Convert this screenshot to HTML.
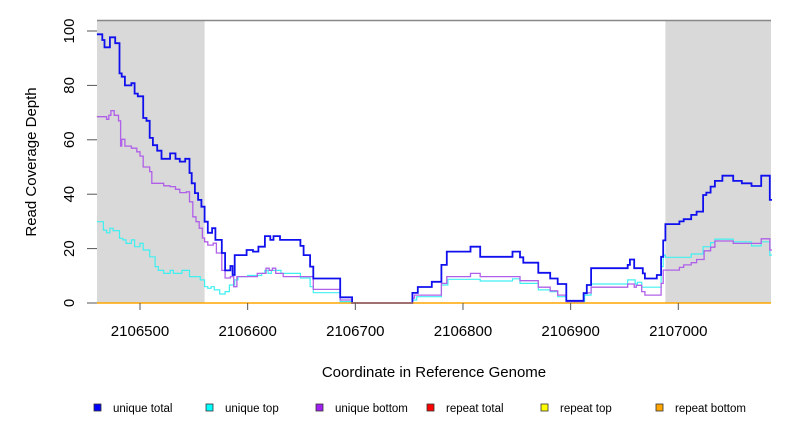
<!DOCTYPE html>
<html><head><meta charset="utf-8"><style>
body{margin:0;background:#fff;}
svg{display:block;font-family:"Liberation Sans",sans-serif;}
</style></head><body>
<svg id="chart" width="792" height="432" viewBox="0 0 792 432">
<g id="bg"></g><g id="series"></g><g id="axes"></g>
</svg>
<script>
const xTicks=[2106500,2106600,2106700,2106800,2106900,2107000];
const yTicks=[0,20,40,60,80,100];
const shadedRegions=[[2106460,2106560],[2106988,2107087]];
const totalPos=[2106460,2106465,2106467,2106472,2106477,2106481,2106483,2106486,2106492,2106495,2106498,2106503,2106506,2106509,2106512,2106516,2106520,2106528,2106533,2106537,2106542,2106546,2106548,2106551,2106554,2106557,2106560,2106563,2106567,2106570,2106576,2106579,2106584,2106586,2106588,2106599,2106605,2106610,2106616,2106621,2106624,2106630,2106649,2106652,2106658,2106661,2106686,2106697,2106753,2106758,2106771,2106780,2106785,2106807,2106816,2106846,2106853,2106856,2106870,2106881,2106888,2106896,2106912,2106915,2106919,2106953,2106955,2106959,2106967,2106969,2106980,2106984,2106986,2106988,2107001,2107005,2107012,2107017,2107023,2107026,2107030,2107034,2107041,2107051,2107059,2107068,2107077,2107085,2107087];
const totalVal=[98.8,96.7,94,97.7,95.5,84.4,83.2,80,80.8,77,76,68,67,60.7,58,56,53,55,53,52,53,47.8,44,40.4,37.9,35.4,29.9,25.8,27.5,23.2,18.4,12,13.6,10.3,17.6,19.5,18.9,20.7,24.6,23.2,24.6,23.2,21,17.6,13.4,9,2.1,0,3.7,5.9,7.8,14,18.9,20.7,17,18.9,16.8,14.8,11.1,9,7,0.8,3.6,6.6,12.8,14,16,12.8,10.9,9,10.3,17,23,29,30,30.8,32.4,33.6,39.7,40.6,42.8,44.9,46.8,44.9,44,43,46.8,37.9];
const bottomPos=[2106460,2106469,2106471,2106473,2106476,2106480,2106482,2106483,2106486,2106492,2106497,2106500,2106503,2106509,2106511,2106522,2106528,2106533,2106537,2106543,2106546,2106549,2106552,2106555,2106558,2106560,2106563,2106568,2106571,2106576,2106579,2106584,2106587,2106590,2106609,2106617,2106620,2106623,2106626,2106633,2106650,2106661,2106686,2106697,2106753,2106755,2106780,2106785,2106807,2106816,2106853,2106870,2106881,2106888,2106896,2106912,2106919,2106953,2106959,2106961,2106966,2106969,2106984,2106986,2106988,2107001,2107005,2107012,2107017,2107024,2107030,2107034,2107051,2107077,2107085,2107087];
const bottomVal=[68.5,67.5,69,70.7,69,67,57.7,60.2,57.7,56.9,55.6,54,50,48.3,44,43.1,42.8,41.8,40.6,40.9,37.2,31.7,29.9,27.5,23.9,22.5,21.3,22,18.4,12,9.2,9.7,6,9.7,10.9,12.8,12,12.8,10.9,9.7,9.7,5,1.1,0,1.8,2.9,7.2,9.7,10.9,9.7,8.2,5.8,4.5,2.9,0.5,3.7,5.8,7,5.8,6.5,4.2,2.9,7.2,12.1,12.1,13.1,14,14.8,16,19.2,20.5,22.8,21.9,23.6,19.5];
const topPos=[2106460,2106466,2106469,2106472,2106475,2106481,2106484,2106487,2106492,2106495,2106500,2106503,2106509,2106514,2106517,2106522,2106528,2106531,2106539,2106546,2106556,2106560,2106563,2106566,2106569,2106574,2106579,2106583,2106588,2106591,2106600,2106613,2106616,2106619,2106622,2106625,2106631,2106649,2106658,2106661,2106686,2106697,2106753,2106757,2106780,2106786,2106807,2106816,2106846,2106853,2106870,2106881,2106888,2106896,2106913,2106919,2106953,2106960,2106962,2106966,2106984,2106986,2106988,2107012,2107023,2107030,2107034,2107051,2107068,2107077,2107085,2107087];
const topVal=[29.9,26.8,25.8,27.5,26.6,23.8,23.2,21.9,23.2,20.7,21.9,19.5,17,13.4,12,10.9,12,10.9,12,9.7,8.5,6,5.4,6,4.8,3.3,4.2,6.6,8.5,9.7,10.1,10.9,12,10.9,12,12,10.9,9.2,6,3.8,0.5,0,1.1,2.3,6.6,8.7,8.7,8.1,8.9,7.2,4.8,4.2,2.3,0.5,2.9,7,8.5,7,7.6,5.8,13.4,17.6,16.8,18,20.7,22.2,23.5,22.5,21,22.5,17.6];
const legendLabels=["unique total","unique top","unique bottom","repeat total","repeat top","repeat bottom"];
const legendColors=["#0000ff","#00ffff","#a020f0","#ff0000","#ffff00","#ffa500"];

const NS="http://www.w3.org/2000/svg";
const X0=97,X1=771,Y0=20,Y1=303;
function xs(c){return 140+(c-2106500)*1.0766;}
function ys(v){return 303-v*2.72;}
function mk(tag,attrs,parent){const e=document.createElementNS(NS,tag);for(const k in attrs)e.setAttribute(k,attrs[k]);parent.appendChild(e);return e;}
const bg=document.getElementById('bg'),sg=document.getElementById('series'),ax=document.getElementById('axes');
shadedRegions.forEach((r,i)=>{
  const a=Math.max(X0,xs(r[0])),b=Math.min(X1,xs(r[1]));
  const el=mk('rect',{x:a,y:Y0,width:b-a,height:Y1-Y0,fill:'#d9d9d9'},bg);
  
  
});
const frame=mk('line',{x1:X0,y1:Y0+0.5,x2:X1,y2:Y0+0.5,stroke:'#888',"stroke-width":1.5},bg);


function stepPath(pos,val){
  let d='M'+xs(pos[0]).toFixed(1)+','+ys(val[0]).toFixed(1);
  for(let i=1;i<pos.length;i++){
    d+=' H'+xs(pos[i]).toFixed(1);
    if(i<val.length)d+=' V'+ys(val[i]).toFixed(1);
  }
  return d;
}
const zeroLine=mk('line',{x1:X0,y1:Y1,x2:X1,y2:Y1,stroke:'#ffa500',"stroke-width":1.5},sg);


const t=mk('path',{d:stepPath(topPos,topVal),fill:'none',stroke:'#40f0f0',"stroke-width":1.2},sg);


const b=mk('path',{d:stepPath(bottomPos,bottomVal),fill:'none',stroke:'#b060e8',"stroke-width":1.3},sg);


const tt=mk('path',{d:stepPath(totalPos,totalVal),fill:'none',stroke:'#1010ee',"stroke-width":1.8},sg);



mk('line',{x1:X0,y1:Y1,x2:X1,y2:Y1,stroke:'#ffa500',"stroke-width":1},ax);
xTicks.forEach(v=>{
  const x=xs(v);
  const tk=mk('line',{x1:x,y1:Y1,x2:x,y2:Y1+7,stroke:'#555'},ax);
  
  
  const tx=mk('text',{x:x,y:336,"text-anchor":"middle","font-size":15,fill:'#000'},ax);
  tx.textContent=v;
  
  
});
yTicks.forEach(v=>{
  const y=ys(v);
  const tk=mk('line',{x1:87,y1:y,x2:X0,y2:y,stroke:'#555'},ax);
  
  
  const tx=mk('text',{x:0,y:0,"text-anchor":"middle","font-size":15,fill:'#000',transform:`translate(74,${y}) rotate(-90)`},ax);
  tx.textContent=v;
  
  
});
const yt=mk('text',{x:0,y:0,"text-anchor":"middle","font-size":15,fill:'#000',transform:'translate(36,162) rotate(-90)'},ax);
yt.textContent='Read Coverage Depth';


const xt=mk('text',{x:434,y:377,"text-anchor":"middle","font-size":15,fill:'#000'},ax);
xt.textContent='Coordinate in Reference Genome';


const lx=[94,206,316,427,541,656];
legendLabels.forEach((l,i)=>{
  const g=mk('g',{},ax);
  
  
  mk('rect',{x:lx[i],y:404,width:7,height:7,fill:legendColors[i],stroke:'#333',"stroke-width":0.8},g);
  const tx=mk('text',{x:lx[i]+19,y:412,"font-size":11.5,fill:'#000'},g);
  tx.textContent=l;
});
</script>
</body></html>
